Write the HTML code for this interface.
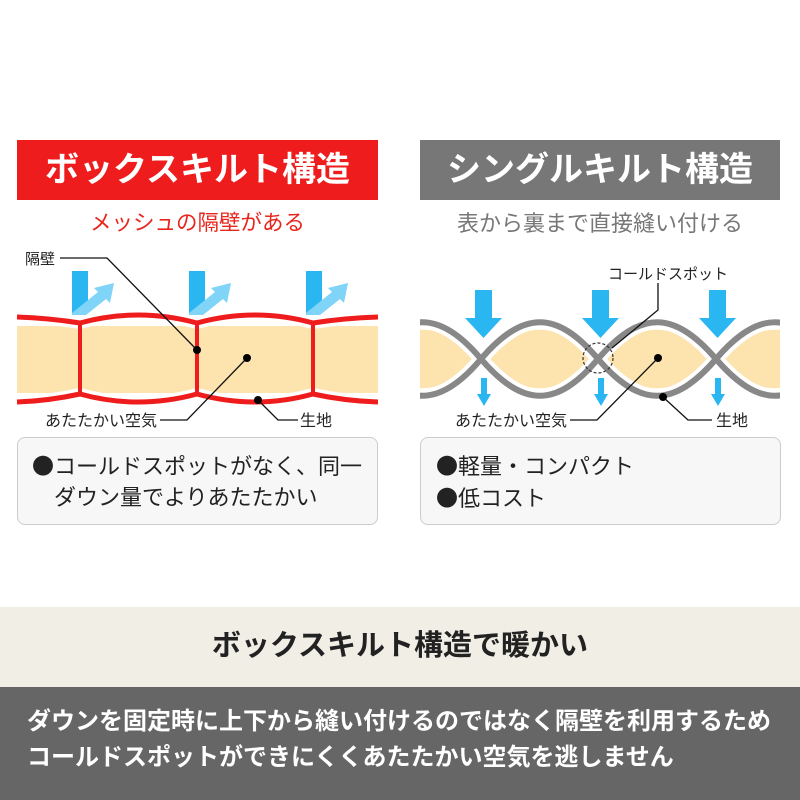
<!DOCTYPE html>
<html><head><meta charset="utf-8"><style>
body{margin:0;width:800px;height:800px;background:#fff;font-family:"Liberation Sans","Noto Sans CJK JP",sans-serif;position:relative;overflow:hidden}
.a{position:absolute;white-space:nowrap}
.b{font-family:"Noto Sans CJK JP",sans-serif}
</style></head><body>
<div class="a" style="left:17px;top:140px;width:361px;height:60px;background:#ee1c1c;color:#fff;font-size:34px;font-weight:bold;text-align:center;line-height:60px">ボックスキルト構造</div>
<div class="a" style="left:420px;top:140px;width:360px;height:60px;background:#777;color:#fff;font-size:34px;font-weight:bold;text-align:center;line-height:60px">シングルキルト構造</div>
<div class="a" style="left:17px;top:206px;width:361px;text-align:center;color:#e8261e;font-size:21.5px">メッシュの隔壁がある</div>
<div class="a" style="left:420px;top:206px;width:360px;text-align:center;color:#777;font-size:22px">表から裏まで直接縫い付ける</div>

<svg class="a" style="left:0;top:0" width="800" height="800">
<defs><clipPath id="cr"><rect x="420" y="0" width="360" height="800"/></clipPath></defs>
<rect x="17" y="326" width="361" height="67" fill="#fde3ad"/>
<g fill="none" stroke="#fff" stroke-width="12">
<path d="M17 317 Q48 318 80 323 Q138 307 197 323 Q255 307 313 323 Q345 318 378 317"/>
<path d="M17 402 Q48 401 80 394 Q138 410 197 394 Q255 410 313 394 Q345 401 378 402"/>
</g>
<g fill="none" stroke="#ee1c1c" stroke-width="5">
<path d="M17 317 Q48 318 80 323 Q138 307 197 323 Q255 307 313 323 Q345 318 378 317"/>
<path d="M17 402 Q48 401 80 394 Q138 410 197 394 Q255 410 313 394 Q345 401 378 402"/>
<path d="M80 323V394M197 323V394M313 323V394" stroke-width="4"/>
</g>
<g id="ar">
<rect x="72" y="271" width="16" height="42" fill="#2ab7f1"/>
<polygon points="72,313 98,292 94,288 114,283 110,303 106,299 86,315 72,315" fill="#80d4f8"/>
</g>
<use href="#ar" x="117"/><use href="#ar" x="234"/>
<g stroke="#111" stroke-width="1.3" fill="none">
<path d="M60 258H107L197 350"/>
<path d="M160 420H187L247 358"/>
<path d="M258 400L278 420H298"/>
</g>
<circle cx="197" cy="350" r="4" fill="#000"/><circle cx="247" cy="358" r="4" fill="#000"/><circle cx="258" cy="400" r="4" fill="#000"/>
<text x="25" y="264" font-size="15" fill="#222">隔壁</text>
<text x="45" y="426" font-size="16" fill="#222">あたたかい空気</text>
<text x="300" y="426" font-size="16" fill="#222">生地</text>
<g clip-path="url(#cr)">
<g fill="#fde3ad">
<path d="M363 359 C405 320 440 320 481 359 C440 398 405 398 363 359Z"/>
<path d="M481 359 C523 320 557 320 598 359 C557 398 523 398 481 359Z"/>
<path d="M598 359 C640 320 674 320 716 359 C674 398 640 398 598 359Z"/>
<path d="M716 359 C758 320 792 320 833 359 C792 398 758 398 716 359Z"/>
</g>
<g fill="none" stroke="#fff" stroke-width="14">
<path id="wa" d="M363 359 C405 310 440 310 481 359 C523 408 557 408 598 359 C640 310 674 310 716 359 C758 408 792 408 833 359"/>
<path id="wb" d="M363 359 C405 408 440 408 481 359 C523 310 557 310 598 359 C640 408 674 408 716 359 C758 310 792 310 833 359"/>
</g>
<g fill="none" stroke="#888" stroke-width="6">
<use href="#wa" stroke="#888" stroke-width="6"/><use href="#wb" stroke="#888" stroke-width="6"/>
</g>
</g>
<g id="ba" fill="#2ab7f1">
<polygon points="475,290 492,290 492,318 502,318 483.5,338 465,318 475,318"/>
<polygon points="481,378 487,378 487,394 491,394 484,406 477,394 481,394"/>
</g>
<use href="#ba" x="117"/><use href="#ba" x="234"/>
<circle cx="598" cy="358" r="15" fill="none" stroke="#333" stroke-width="1.2" stroke-dasharray="3,2"/>
<g stroke="#111" stroke-width="1.3" fill="none">
<path d="M658 283V310L612 348"/>
<path d="M658 358L597 420H570"/>
<path d="M663 397L688 420H712"/>
</g>
<circle cx="658" cy="358" r="4" fill="#000"/><circle cx="663" cy="397" r="4" fill="#000"/>
<text x="608" y="279" font-size="15" fill="#222">コールドスポット</text>
<text x="455" y="426" font-size="16" fill="#222">あたたかい空気</text>
<text x="716" y="426" font-size="16" fill="#222">生地</text>
</svg>

<div class="a" style="left:17px;top:437px;width:359px;height:86px;border:1px solid #ccc;border-radius:8px;background:#f7f7f7"></div>
<div class="a" style="left:420px;top:437px;width:359px;height:86px;border:1px solid #ccc;border-radius:8px;background:#f7f7f7"></div>
<div class="a" style="left:32px;top:450px;font-size:22px;line-height:31px;color:#222"><span class="b">●</span>コールドスポットがなく、同一<br><span style="padding-left:22px">ダウン量でよりあたたかい</span></div>
<div class="a" style="left:436px;top:450px;font-size:22px;line-height:31px;color:#222"><span class="b">●</span>軽量・コンパクト<br><span class="b">●</span>低コスト</div>

<div class="a" style="left:0;top:607px;width:800px;height:80px;background:#f1eee6;text-align:center;line-height:78px;font-size:29px;font-weight:bold;color:#222">ボックスキルト構造で暖かい</div>
<div class="a" style="left:0;top:687px;width:800px;height:113px;background:#666"></div>
<div class="a" style="left:27px;top:704px;font-size:24px;line-height:36px;color:#fff;font-weight:bold">ダウンを固定時に上下から縫い付けるのではなく隔壁を利用するため<br>コールドスポットができにくくあたたかい空気を逃しません</div>
</body></html>
